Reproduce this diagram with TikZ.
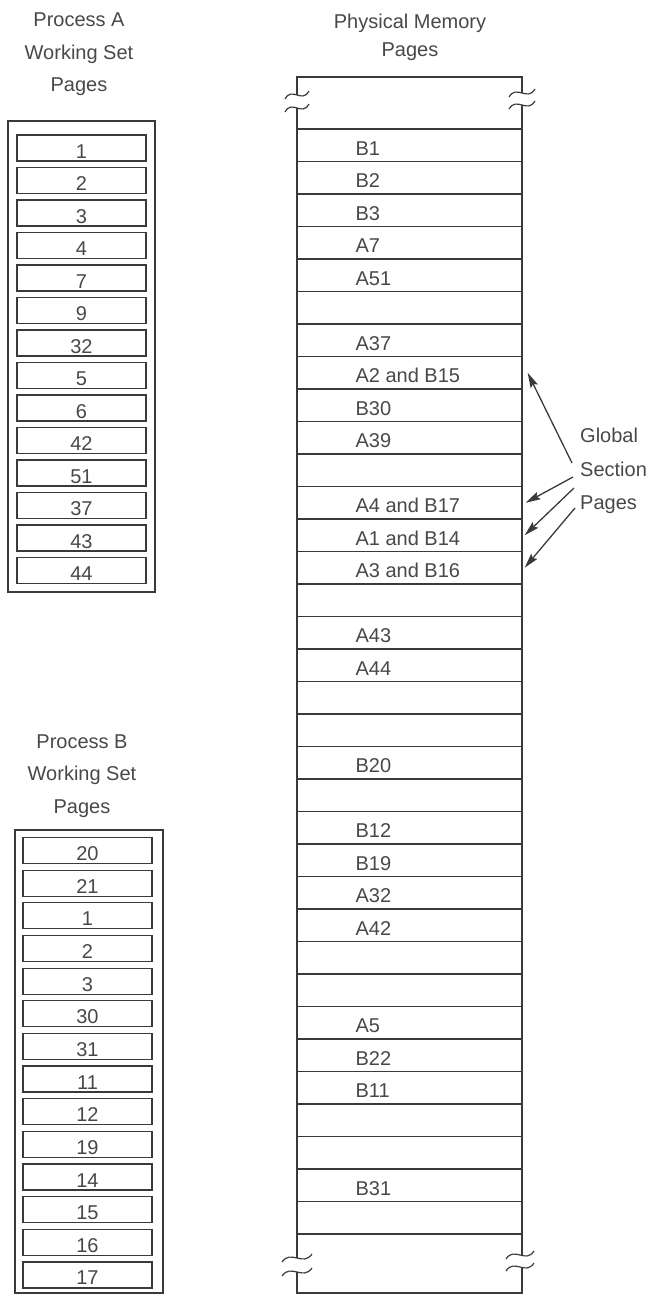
\documentclass[tikz,border=0pt]{standalone}
\usepackage{fontspec}
\setmainfont{Liberation Sans}
\usetikzlibrary{arrows.meta,calc}
\definecolor{pmInk}{HTML}{3A3A3A}
\definecolor{pmText}{HTML}{484848}
\newcommand{\pmfont}{\fontsize{20}{24}\selectfont}
\newcommand{\pmhead}{\fontsize{20}{32.5}\selectfont}
\newcommand{\pmbreak}[3]{\draw[brk] ($(#1,#2)+(-#3,4)$) .. controls +(0.6*#3,-13) and +(-0.6*#3,13) .. ($(#1,#2)+(#3,-4)$);}
\tikzset{
  pmline/.style={pmInk, line width=1.3pt},
  pmrow/.style={draw=pmInk, line width=1.3pt, minimum width=225pt, minimum height=32.5pt, inner sep=0pt},
  pmlabel/.style={text=pmText, font=\pmfont, inner sep=0pt, anchor=west},
  wsbox/.style={draw=pmInk, line width=1.2pt, minimum width=129pt, minimum height=26pt, inner sep=0pt,
    text height=20pt, text depth=0pt, text=pmText, font=\pmfont},
  heading/.style={text=pmText, font=\pmhead, align=center, inner sep=0pt, anchor=north},
  brk/.style={pmInk, line width=1.2pt},
  gsarrow/.style={pmInk, line width=1.3pt, -{Stealth[length=15pt,width=8pt,inset=2.5pt]}},
}
\begin{document}
\begin{tikzpicture}[x=1pt,y=-1pt]
  \useasboundingbox (0,0) rectangle (649,1296);

  % headings
  \node[heading] (hA) at (79,13) {Process A\\Working Set\\Pages};
  \node[heading] (hB) at (82,734.5) {Process B\\Working Set\\Pages};
  \node[heading, font=\fontsize{20}{28}\selectfont] (hM) at (410,13.5) {Physical Memory\\Pages};
  \node[heading, anchor=north west, align=left, font=\fontsize{20}{33.5}\selectfont] (hG) at (580,428) {Global\\Section\\Pages};

  % process A working set
  \draw[pmline] (8,121) rectangle (155,592);
  \foreach \lab [count=\i] in {1,2,3,4,7,9,32,5,6,42,51,37,43,44}
    \node[wsbox] (a\i) at (81.5,{148+(\i-1)*32.5}) {\lab};

  % process B working set
  \draw[pmline] (15,830) rectangle (163,1293);
  \foreach \lab [count=\i] in {20,21,1,2,3,30,31,11,12,19,14,15,16,17}
    \node[wsbox] (b\i) at (87.5,{850.5+(\i-1)*32.65}) {\lab};

  % physical memory column
  \foreach \lab [count=\i] in {B1,B2,B3,A7,A51,{},A37,A2 and B15,B30,A39,{},A4 and B17,A1 and B14,A3 and B16,{},A43,A44,{},{},B20,{},B12,B19,A32,A42,{},{},A5,B22,B11,{},{},B31,{}} {
    \node[pmrow] (r\i) at (409.5,{129+(\i-0.5)*32.5}) {};
    \node[pmlabel, yshift=-3pt] (t\i) at ([xshift=59pt]r\i.west) {\lab};
  }

  % broken ends
  \draw[pmline] (297,95) -- (297,77) -- (522,77) -- (522,93);
  \draw[pmline] (297,108) -- (297,129);
  \draw[pmline] (522,105) -- (522,129);
  \pmbreak{297}{95}{12} \pmbreak{297}{108}{12}
  \pmbreak{522}{93}{13} \pmbreak{522}{105}{13}
  \draw[pmline] (297,1233) -- (297,1258);
  \draw[pmline] (522,1233) -- (522,1255);
  \draw[pmline] (297,1272) -- (297,1293) -- (522,1293) -- (522,1267);
  \pmbreak{297}{1258}{15} \pmbreak{297}{1272}{15}
  \pmbreak{520}{1255}{14} \pmbreak{520}{1267}{14}

  % global section arrows
  \coordinate (g1) at (572,463);
  \coordinate (g2) at (573,477);
  \coordinate (g3) at (574,488);
  \coordinate (g4) at (575,508);
  \draw[gsarrow] (g1) -- ([xshift=5pt]r8.east);
  \draw[gsarrow] (g2) -- ([xshift=3pt]r12.east);
  \draw[gsarrow] (g3) -- ([xshift=2pt]r13.east);
  \draw[gsarrow] (g4) -- ([xshift=2pt]r14.east);
\end{tikzpicture}
\end{document}
